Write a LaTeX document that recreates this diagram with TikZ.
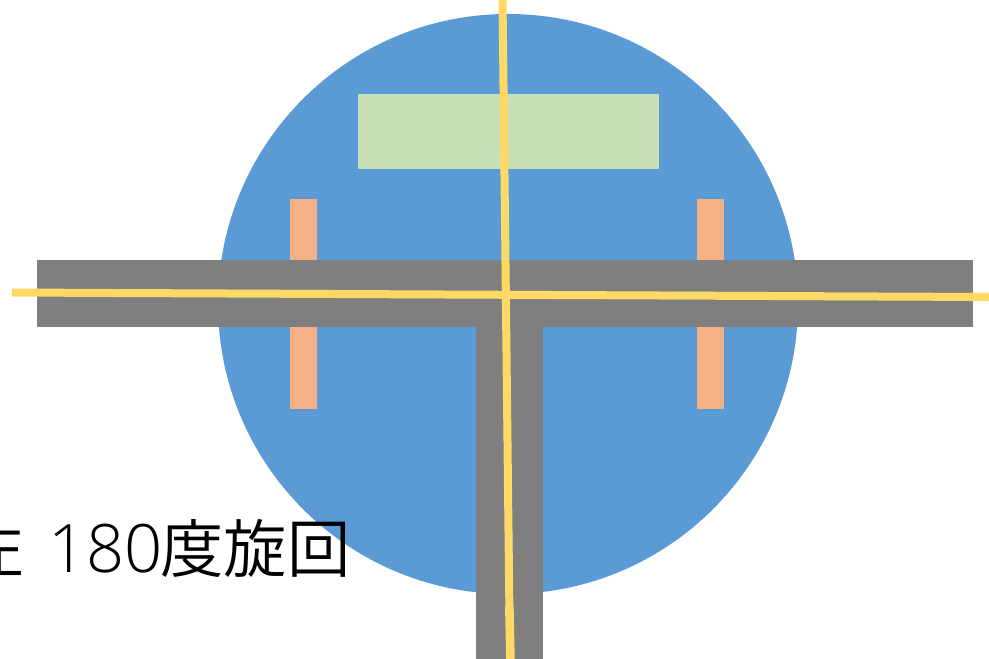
\documentclass[tikz,border=0pt]{standalone}
\usepackage{fontspec}
\newfontfamily\cjk{Noto Sans CJK JP DemiLight}
\newfontfamily\digits{Open Sans Light}
\definecolor{discblue}{HTML}{5B9BD5}
\definecolor{platgreen}{HTML}{C5E0B4}
\definecolor{padorange}{HTML}{F4B183}
\definecolor{armgray}{HTML}{7F7F7F}
\definecolor{axisyellow}{HTML}{FFD966}
\begin{document}
\begin{tikzpicture}[scale=0.1]
\tikzstyle{axis}=[axisyellow, line width=2.276pt]
\useasboundingbox (0,0) rectangle (98.9,-65.9);
\fill [discblue] (50.8,-30.4) circle (29);
\fill [platgreen] (35.8,-9.4) rectangle (65.9,-16.9);
\fill [padorange] (29,-19.9) rectangle (31.7,-40.9);
\fill [padorange] (69.7,-19.9) rectangle (72.4,-40.9);
\fill [armgray] (3.7,-26) rectangle (97.3,-32.7);
\fill [armgray] (47.6,-32.7) rectangle (54.3,-65.9);
\coordinate (axistop) at (50.25,0);
\coordinate (axisjoin) at (50.93,-60.6);
\coordinate (axisbottom) at (51.04,-65.9);
\coordinate (axisleft) at (1.2,-29.25);
\coordinate (axisright) at (98.9,-29.7);
\draw [axis] (axistop) -- (axisjoin);
\draw [axis, line width=2.45pt] (axisjoin) -- (axisbottom);
\draw [axis] (axisleft) -- (axisright);
\node (turnlabel) [anchor=base east, inner sep=0pt, font=\fontsize{18}{19}\selectfont\cjk, text=black] at (35.1,-57.2) {左\hspace{2.6pt} {\fontsize{19}{19}\selectfont\digits 180}\hspace{-0.6pt}度旋回};
\end{tikzpicture}
\end{document}
